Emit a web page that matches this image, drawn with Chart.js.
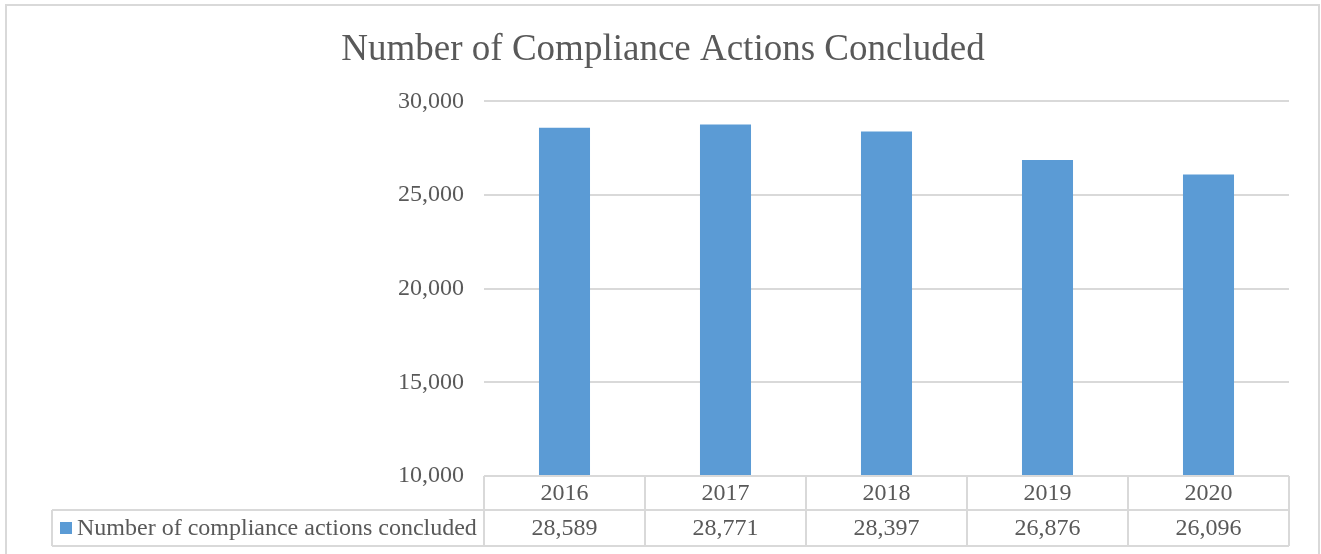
<!DOCTYPE html>
<html>
<head>
<meta charset="utf-8">
<script src="https://cdn.jsdelivr.net/npm/chart.js@4.4.1/dist/chart.umd.min.js"></script>
<style>
  html, body { margin: 0; padding: 0; background: #fff; }
  #wrap { width: 1321px; height: 554px; position: relative; }
</style>
</head>
<body>
<div id="wrap"><canvas id="chart"></canvas></div>
<script>
// data
var years = ['2016', '2017', '2018', '2019', '2020'];
var actions = [28589, 28771, 28397, 26876, 26096];
var seriesName = 'Number of compliance actions concluded';
var yTicks = [10000, 15000, 20000, 25000, 30000];

var FONT = '"Liberation Serif", "Times New Roman", serif';
var TEXT = '#595959';
var LINE = '#d9d9d9';
var BAR = '#5b9bd5';

function fmt(v) {
    return v.toLocaleString('en-US');
}

// outer frame of the chart
var framePlugin = {
    id: 'frame',
    beforeDraw: function (chart) {
        var ctx = chart.ctx;
        ctx.save();
        ctx.fillStyle = '#fff';
        ctx.fillRect(0, 0, chart.width, chart.height);
        ctx.strokeStyle = LINE;
        ctx.lineWidth = 2;
        ctx.beginPath();
        ctx.moveTo(6, chart.height + 2);
        ctx.lineTo(6, 5);
        ctx.lineTo(1319, 5);
        ctx.lineTo(1319, chart.height + 2);
        ctx.stroke();
        ctx.restore();
    }
};

// excel style data table under the plot
var tablePlugin = {
    id: 'dataTable',
    afterDraw: function (chart) {
        var ctx = chart.ctx;
        var area = chart.chartArea;
        var xs = chart.scales.x;
        var n = chart.data.labels.length;
        var colW = (area.right - area.left) / n;
        var top = area.bottom;
        var mid = top + 34;
        var bot = top + 70;
        var legendLeft = 52;

        ctx.save();
        ctx.strokeStyle = LINE;
        ctx.lineWidth = 2;
        ctx.beginPath();
        ctx.moveTo(area.left, top);
        ctx.lineTo(area.right, top);
        ctx.moveTo(legendLeft, mid);
        ctx.lineTo(area.right, mid);
        ctx.moveTo(legendLeft, bot);
        ctx.lineTo(area.right, bot);
        ctx.moveTo(legendLeft, mid);
        ctx.lineTo(legendLeft, bot);
        for (var i = 0; i <= n; i++) {
            var x = area.left + i * colW;
            ctx.moveTo(x, top);
            ctx.lineTo(x, bot);
        }
        ctx.stroke();

        ctx.fillStyle = TEXT;
        ctx.font = '24px ' + FONT;
        ctx.textAlign = 'center';
        ctx.textBaseline = 'middle';
        var ds = chart.data.datasets[0];
        for (var j = 0; j < n; j++) {
            var cx = xs.getPixelForValue(j);
            ctx.fillText(chart.data.labels[j], cx, (top + mid) / 2 + 1);
            ctx.fillText(fmt(ds.data[j]), cx, (mid + bot) / 2 + 1);
        }

        // legend key
        ctx.fillStyle = ds.backgroundColor;
        ctx.fillRect(60, (mid + bot) / 2 - 6, 12, 12);
        ctx.fillStyle = TEXT;
        ctx.textAlign = 'left';
        ctx.fillText(ds.label, 77, (mid + bot) / 2 + 1);
        ctx.restore();
    }
};

var chart = new Chart(document.getElementById('chart'), {
    type: 'bar',
    data: {
        labels: years,
        datasets: [{
            label: seriesName,
            data: actions,
            backgroundColor: BAR,
            barPercentage: 0.317,
            categoryPercentage: 1
        }]
    },
    options: {
        responsive: true,
        maintainAspectRatio: false,
        animation: false,
        layout: {
            padding: { left: 37, right: 32, top: 0, bottom: 78 }
        },
        plugins: {
            legend: { display: false },
            tooltip: { enabled: false },
            title: {
                display: true,
                text: 'Number of Compliance Actions Concluded',
                color: TEXT,
                font: { family: FONT, size: 37, weight: 'normal', lineHeight: 1.2 },
                padding: { top: 28, bottom: 29 }
            }
        },
        scales: {
            x: {
                display: false
            },
            y: {
                min: yTicks[0],
                max: yTicks[yTicks.length - 1],
                afterBuildTicks: function (scale) {
                    scale.ticks = yTicks.map(function (v) { return { value: v }; });
                },
                afterFit: function (scale) {
                    scale.width = 447;
                },
                border: { display: false },
                grid: { color: LINE, lineWidth: 2, drawTicks: false },
                ticks: {
                    color: TEXT,
                    padding: 20,
                    font: { family: FONT, size: 24 },
                    callback: function (v) { return fmt(v); }
                }
            }
        }
    },
    plugins: [framePlugin, tablePlugin]
});
</script>
</body>
</html>
